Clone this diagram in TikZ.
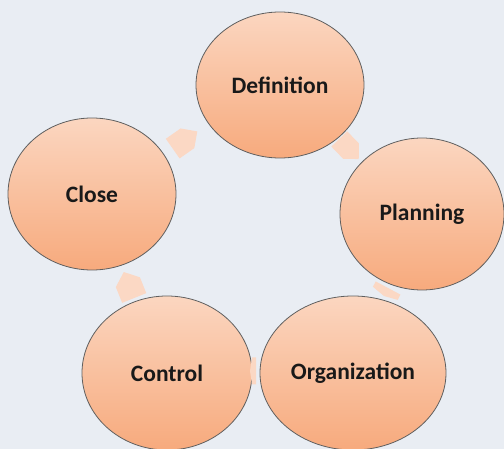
\documentclass[tikz,border=0pt]{standalone}
\usepackage{fontspec}
\setmainfont{Carlito}
\usetikzlibrary{shapes.geometric}
\definecolor{bg}{RGB}{233,237,243}
\definecolor{toppeach}{RGB}{251,214,192}
\definecolor{botpeach}{RGB}{247,170,125}
\definecolor{rim}{RGB}{95,95,95}
\definecolor{arrowfill}{RGB}{251,216,196}
\tikzset{
  phase/.style={ellipse, draw=rim, line width=0.8pt, top color=toppeach, bottom color=botpeach,
    inner sep=0pt, font=\fontsize{23.5}{28}\selectfont\bfseries, text=black!90},
  pics/chev/.style args={#1/#2/#3}{code={
    \fill[arrowfill] (-#1/2,-#2/2) -- (#1/2-#3,-#2/2) -- (#1/2,0) -- (#1/2-#3,#2/2) -- (-#1/2,#2/2) -- cycle;}}
}
\begin{document}
\begin{tikzpicture}[x=1pt,y=-1pt]
\fill[bg] (0,0) rectangle (504,449);
\useasboundingbox (0,0) rectangle (504,449);
\node[phase, minimum width=168pt, minimum height=146pt] (def) at (280,85) {Definition};
\node[phase, minimum width=164pt, minimum height=152pt] (plan) at (422,214) {Planning};
\node[phase, minimum width=186pt, minimum height=154pt] (org) at (353,373) {Organization};
\node[phase, minimum width=170pt, minimum height=154pt] (ctrl) at (167,373) {Control};
\node[phase, minimum width=168pt, minimum height=152pt] (close) at (92,194) {Close};
\pic[rotate=35] at (185,140) {chev={30/24/12}};
\pic[rotate=-46] at (349,149) {chev={28/22/11}};
\pic[rotate=-118] at (386,292) {chev={9/28/3}};
\pic[rotate=180] at (253,371) {chev={6/27/2}};
\pic[rotate=112] at (129,285) {chev={28/26/11}};
\end{tikzpicture}
\end{document}
